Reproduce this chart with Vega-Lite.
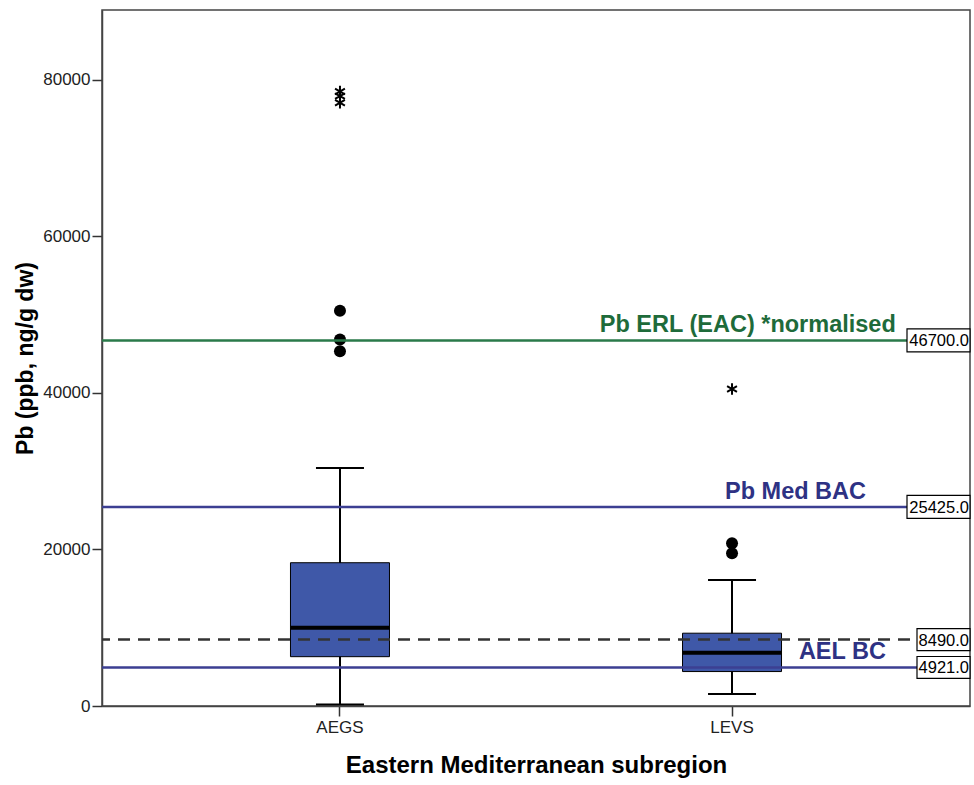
{
  "$schema": "https://vega.github.io/schema/vega-lite/v6.json",
  "width": 868,
  "height": 696,
  "padding": {"left": 14, "top": 10, "right": 4, "bottom": 5},
  "config": {
    "font": "Liberation Sans",
    "view": {"stroke": "#444444", "strokeWidth": 1.5},
    "axis": {"grid": false, "domainColor": "#444444", "domainWidth": 1.5, "tickColor": "#333333", "tickWidth": 1.5, "tickSize": 10, "labelColor": "#222222", "labelFontSize": 17, "titleColor": "#000000", "titleFontWeight": "bold"},
    "axisY": {"titleFontSize": 23, "titlePadding": 5, "labelPadding": 2, "format": "d"}
  },
  "datasets": {
    "boxes": [
      {"region": "AEGS", "lo": 200, "q1": 6300, "median": 10000, "q3": 18300, "hi": 30400},
      {"region": "LEVS", "lo": 1530, "q1": 4400, "median": 6800, "q3": 9300, "hi": 16100}
    ],
    "outliers": [
      {"region": "AEGS", "value": 50500, "kind": "outlier"},
      {"region": "AEGS", "value": 46800, "kind": "outlier"},
      {"region": "AEGS", "value": 45300, "kind": "outlier"},
      {"region": "AEGS", "value": 78500, "kind": "extreme"},
      {"region": "AEGS", "value": 77900, "kind": "extreme"},
      {"region": "AEGS", "value": 77050, "kind": "extreme"},
      {"region": "LEVS", "value": 20800, "kind": "outlier"},
      {"region": "LEVS", "value": 19500, "kind": "outlier"},
      {"region": "LEVS", "value": 40500, "kind": "extreme"}
    ],
    "refs": [
      {"line": "ERL", "value": 46700, "label": "Pb ERL (EAC) *normalised", "valueText": "46700.0", "pos": 0.744},
      {"line": "BAC", "value": 25425, "label": "Pb Med BAC", "valueText": "25425.0", "pos": 0.799},
      {"line": "REF", "value": 8490, "label": "", "valueText": "8490.0", "pos": 0.5},
      {"line": "AEL", "value": 4921, "label": "AEL BC", "valueText": "4921.0", "pos": 0.853}
    ]
  },
  "layer": [
    {
      "data": {"name": "boxes"},
      "encoding": {
        "x": {
          "field": "region", "type": "nominal",
          "scale": {"type": "band", "domain": ["AEGS", "LEVS"], "paddingInner": 0, "paddingOuter": 0.107},
          "axis": {"title": "Eastern Mediterranean subregion", "titleFontSize": 24, "titlePadding": 18, "labelAngle": 0, "labelPadding": 3}
        }
      },
      "layer": [
        {
          "mark": {"type": "rule", "color": "#000000", "strokeWidth": 2},
          "encoding": {
            "y": {"field": "lo", "type": "quantitative", "title": "Pb (ppb, ng/g dw)",
                  "scale": {"domain": [0, 88900], "nice": false, "zero": true},
                  "axis": {"values": [0, 20000, 40000, 60000, 80000], "format": "d"}},
            "y2": {"field": "hi"}
          }
        },
        {
          "mark": {"type": "bar", "size": 99, "fill": "#3f58a8", "stroke": "#000000", "strokeWidth": 1},
          "encoding": {
            "y": {"field": "q1", "type": "quantitative", "title": "Pb (ppb, ng/g dw)"},
            "y2": {"field": "q3"}
          }
        },
        {
          "mark": {"type": "tick", "size": 99, "thickness": 4, "color": "#000000", "opacity": 1},
          "encoding": {"y": {"field": "median", "type": "quantitative", "title": "Pb (ppb, ng/g dw)"}}
        },
        {
          "mark": {"type": "tick", "size": 48, "thickness": 2, "color": "#000000", "opacity": 1},
          "encoding": {"y": {"field": "lo", "type": "quantitative", "title": "Pb (ppb, ng/g dw)"}}
        },
        {
          "mark": {"type": "tick", "size": 48, "thickness": 2, "color": "#000000", "opacity": 1},
          "encoding": {"y": {"field": "hi", "type": "quantitative", "title": "Pb (ppb, ng/g dw)"}}
        },
        {
          "data": {"name": "outliers"},
          "transform": [{"filter": "datum.kind === 'outlier'"}],
          "mark": {"type": "point", "shape": "circle", "filled": true, "size": 144, "color": "#000000", "opacity": 1},
          "encoding": {"y": {"field": "value", "type": "quantitative", "title": "Pb (ppb, ng/g dw)"}}
        },
        {
          "data": {"name": "outliers"},
          "transform": [{"filter": "datum.kind === 'extreme'"}],
          "mark": {"type": "point", "shape": "M0,-1L0,1M-0.866,-0.5L0.866,0.5M-0.866,0.5L0.866,-0.5", "filled": false, "size": 130, "stroke": "#000000", "strokeWidth": 2, "opacity": 1},
          "encoding": {"y": {"field": "value", "type": "quantitative", "title": "Pb (ppb, ng/g dw)"}}
        }
      ]
    },
    {
      "data": {"name": "refs"},
      "layer": [
        {
          "mark": {"type": "rule", "strokeWidth": 2.5},
          "encoding": {
            "y": {"field": "value", "type": "quantitative", "title": "Pb (ppb, ng/g dw)"},
            "color": {"field": "line", "type": "nominal", "legend": null,
                      "scale": {"domain": ["ERL", "BAC", "AEL", "REF"], "range": ["#2a7a4a", "#3c3f92", "#3c3f92", "#333333"]}},
            "strokeDash": {"field": "line", "type": "nominal", "legend": null,
                           "scale": {"domain": ["ERL", "BAC", "AEL", "REF"], "range": [[1, 0], [1, 0], [1, 0], [12, 8]]}}
          }
        },
        {
          "transform": [{"filter": "datum.label !== ''"}],
          "mark": {"type": "text", "fontSize": 23.5, "fontWeight": "bold", "align": "center", "baseline": "alphabetic", "dy": -8},
          "encoding": {
            "x": {"field": "pos", "type": "quantitative", "scale": {"domain": [0, 1], "nice": false, "zero": false}, "axis": null},
            "y": {"field": "value", "type": "quantitative", "title": "Pb (ppb, ng/g dw)"},
            "text": {"field": "label"},
            "fill": {"field": "line", "type": "nominal", "legend": null,
                     "scale": {"domain": ["ERL", "BAC", "AEL", "REF"], "range": ["#1e6b3a", "#2e3284", "#2e3284", "#333333"]}}
          }
        },
        {
          "transform": [{"filter": "datum.value >= 10000"}],
          "mark": {"type": "point", "shape": "M-1,-0.365L1,-0.365L1,0.365L-1,0.365Z", "size": 3969, "filled": true, "fill": "#ffffff", "stroke": "#000000", "strokeWidth": 1.2, "opacity": 1, "xOffset": -31.5},
          "encoding": {
            "x": {"datum": 1, "type": "quantitative", "axis": null},
            "y": {"field": "value", "type": "quantitative", "title": "Pb (ppb, ng/g dw)"}
          }
        },
        {
          "transform": [{"filter": "datum.value < 10000"}],
          "mark": {"type": "point", "shape": "M-1,-0.415L1,-0.415L1,0.415L-1,0.415Z", "size": 2809, "filled": true, "fill": "#ffffff", "stroke": "#000000", "strokeWidth": 1.2, "opacity": 1, "xOffset": -26.5},
          "encoding": {
            "x": {"datum": 1, "type": "quantitative", "axis": null},
            "y": {"field": "value", "type": "quantitative", "title": "Pb (ppb, ng/g dw)"}
          }
        },
        {
          "mark": {"type": "text", "fontSize": 16.5, "align": "right", "baseline": "middle", "dx": -1, "dy": 1, "color": "#000000"},
          "encoding": {
            "x": {"datum": 1, "type": "quantitative", "axis": null},
            "y": {"field": "value", "type": "quantitative", "title": "Pb (ppb, ng/g dw)"},
            "text": {"field": "valueText"}
          }
        }
      ]
    }
  ],
  "resolve": {"scale": {"x": "independent"}}
}
